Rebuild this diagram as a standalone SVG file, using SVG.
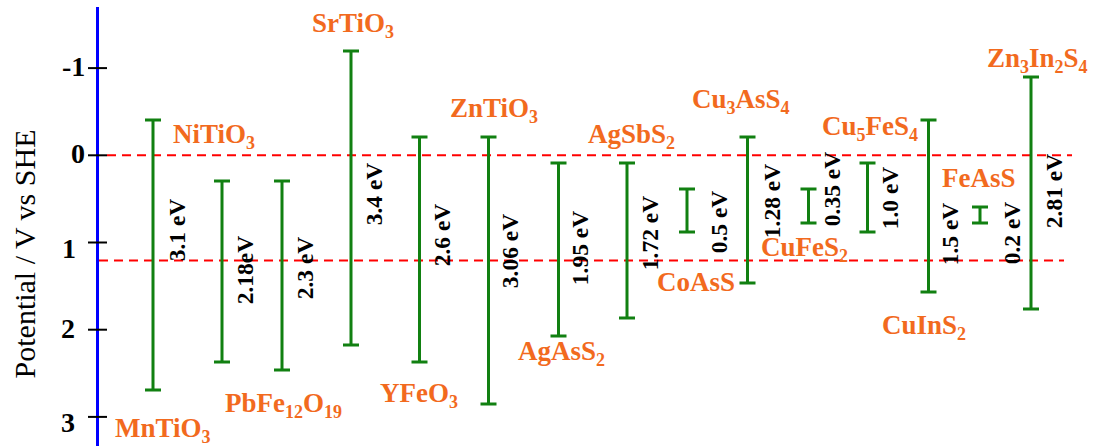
<svg xmlns="http://www.w3.org/2000/svg" width="1093" height="446" viewBox="0 0 1093 446">
<style>
.bar{stroke:#118011;stroke-width:3;fill:none}
.cmp{font-family:"Liberation Serif","Times New Roman",serif;font-weight:bold;font-size:27px;fill:#f26a1e}
.sub{font-size:18px}
.ev{font-family:"Liberation Serif","Times New Roman",serif;font-weight:bold;font-size:23.5px;fill:#000;text-anchor:middle}
.tick{font-family:"Liberation Serif","Times New Roman",serif;font-weight:bold;font-size:28px;fill:#000}
.ref{stroke:#ff0000;stroke-width:2;stroke-dasharray:9 6;fill:none}
</style>
<rect width="1093" height="446" fill="#ffffff"/>
<g id="axis">
<line x1="97.5" y1="7" x2="97.5" y2="446" stroke="#0000ff" stroke-width="3"/>
<g stroke="#000" stroke-width="2">
<line x1="88" y1="68.1" x2="107" y2="68.1"/>
<line x1="88" y1="155.3" x2="107" y2="155.3"/>
<line x1="88" y1="242.5" x2="107" y2="242.5"/>
<line x1="88" y1="329.7" x2="107" y2="329.7"/>
<line x1="88" y1="416.9" x2="107" y2="416.9"/>
</g>
<text class="tick" x="62" y="76">-1</text>
<text class="tick" x="71" y="163">0</text>
<text class="tick" x="62" y="258">1</text>
<text class="tick" x="61" y="338">2</text>
<text class="tick" x="61" y="432">3</text>
<text transform="translate(35,254) rotate(-90)" text-anchor="middle" font-family="Liberation Serif, Times New Roman, serif" font-size="30" fill="#000">Potential / V vs SHE</text>
</g>
<g id="reference-lines">
<line class="ref" x1="107" y1="155.3" x2="1072" y2="155.3"/>
<line class="ref" x1="99" y1="260.5" x2="1064" y2="260.5"/>
</g>
<g id="MnTiO3">
<path class="bar" d="M153 120V390M145 120H161M145 390H161"/>
<text class="ev" transform="translate(185,230) rotate(-90)">3.1 eV</text>
<text class="cmp" x="115" y="437">MnTiO<tspan class="sub" dy="6">3</tspan></text>
</g>
<g id="NiTiO3">
<text class="cmp" x="173" y="143">NiTiO<tspan class="sub" dy="6">3</tspan></text>
</g>
<g id="PbFe12O19-a">
<path class="bar" d="M222 181V362M214 181H230M214 362H230"/>
<text class="ev" transform="translate(253,270) rotate(-90)">2.18eV</text>
</g>
<g id="PbFe12O19">
<path class="bar" d="M282 181V370M274 181H290M274 370H290"/>
<text class="ev" transform="translate(313,268) rotate(-90)">2.3 eV</text>
<text class="cmp" x="225" y="412">PbFe<tspan class="sub" dy="6">12</tspan><tspan dy="-6">O</tspan><tspan class="sub" dy="6">19</tspan></text>
</g>
<g id="SrTiO3">
<path class="bar" d="M351 51V345M343 51H359M343 345H359"/>
<text class="ev" transform="translate(382,194) rotate(-90)">3.4 eV</text>
<text class="cmp" x="312" y="32">SrTiO<tspan class="sub" dy="6">3</tspan></text>
</g>
<g id="YFeO3">
<path class="bar" d="M419.5 137V362M411.5 137H427.5M411.5 362H427.5"/>
<text class="ev" transform="translate(450,235) rotate(-90)">2.6 eV</text>
<text class="cmp" x="380" y="402">YFeO<tspan class="sub" dy="6">3</tspan></text>
</g>
<g id="ZnTiO3">
<path class="bar" d="M488.5 137V404M480.5 137H496.5M480.5 404H496.5"/>
<text class="ev" transform="translate(518,251) rotate(-90)">3.06 eV</text>
<text class="cmp" x="450" y="117">ZnTiO<tspan class="sub" dy="6">3</tspan></text>
</g>
<g id="AgAsS2">
<path class="bar" d="M558.5 163V336M550.5 163H566.5M550.5 336H566.5"/>
<text class="ev" transform="translate(588,248) rotate(-90)">1.95 eV</text>
<text class="cmp" x="518" y="360">AgAsS<tspan class="sub" dy="6">2</tspan></text>
</g>
<g id="AgSbS2">
<path class="bar" d="M627 163V318M619 163H635M619 318H635"/>
<text class="ev" transform="translate(658,233) rotate(-90)">1.72 eV</text>
<text class="cmp" x="588" y="143">AgSbS<tspan class="sub" dy="6">2</tspan></text>
</g>
<g id="CoAsS">
<path class="bar" d="M687 189V232M679 189H695M679 232H695"/>
<text class="ev" transform="translate(727,222) rotate(-90)">0.5 eV</text>
<text class="cmp" x="657" y="291">CoAsS</text>
</g>
<g id="Cu3AsS4">
<path class="bar" d="M747.5 137V283M739.5 137H755.5M739.5 283H755.5"/>
<text class="ev" transform="translate(780,201) rotate(-90)">1.28 eV</text>
<text class="cmp" x="692" y="108">Cu<tspan class="sub" dy="6">3</tspan><tspan dy="-6">AsS</tspan><tspan class="sub" dy="6">4</tspan></text>
</g>
<g id="CuFeS2">
<path class="bar" d="M808.5 189V223M800.5 189H816.5M800.5 223H816.5"/>
<text class="ev" transform="translate(840,189) rotate(-90)">0.35 eV</text>
<text class="cmp" x="761" y="256">CuFeS<tspan class="sub" dy="6">2</tspan></text>
</g>
<g id="Cu5FeS4">
<path class="bar" d="M867.5 163V232M859.5 163H875.5M859.5 232H875.5"/>
<text class="ev" transform="translate(898,198) rotate(-90)">1.0 eV</text>
<text class="cmp" x="822" y="135">Cu<tspan class="sub" dy="6">5</tspan><tspan dy="-6">FeS</tspan><tspan class="sub" dy="6">4</tspan></text>
</g>
<g id="CuInS2">
<path class="bar" d="M928.5 120V292M920.5 120H936.5M920.5 292H936.5"/>
<text class="ev" transform="translate(958,234) rotate(-90)">1.5 eV</text>
<text class="cmp" x="882" y="334">CuInS<tspan class="sub" dy="6">2</tspan></text>
</g>
<g id="FeAsS">
<path class="bar" d="M980 207V223M972 207H988M972 223H988"/>
<text class="ev" transform="translate(1020,233) rotate(-90)">0.2 eV</text>
<text class="cmp" x="942" y="187">FeAsS</text>
</g>
<g id="Zn3In2S4">
<path class="bar" d="M1031 77V309M1023 77H1039M1023 309H1039"/>
<text class="ev" transform="translate(1062,191) rotate(-90)">2.81 eV</text>
<text class="cmp" x="987" y="67">Zn<tspan class="sub" dy="6">3</tspan><tspan dy="-6">In</tspan><tspan class="sub" dy="6">2</tspan><tspan dy="-6">S</tspan><tspan class="sub" dy="6">4</tspan></text>
</g>
</svg>
